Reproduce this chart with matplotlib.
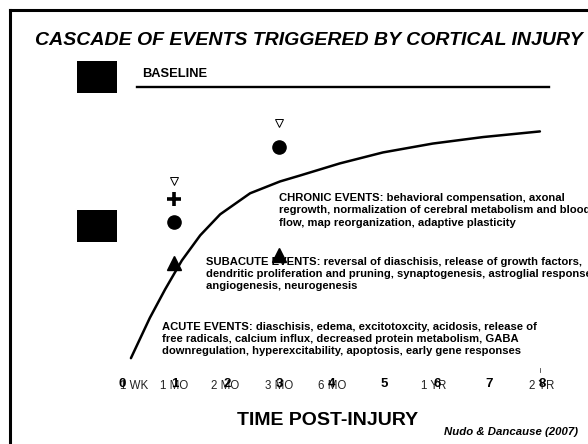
import numpy as np
import matplotlib as mpl
mpl.use('Agg')
import matplotlib.pyplot as plt
from matplotlib.lines import Line2D

plt.rcParams['font.family'] = ['Liberation Sans', 'DejaVu Sans']

# recovery curve (x = time index, y = function level, baseline = 100)
curve_x = [0.17, 0.53, 0.82, 1.14, 1.49, 1.87, 2.44, 3.01, 3.39, 4.15, 4.97, 5.92, 6.88, 7.96]
curve_y = [9.0, 22.6, 32.2, 42.0, 50.5, 57.6, 64.7, 68.7, 70.7, 74.8, 78.5, 81.5, 83.7, 85.6]

baseline_level = 100.6
baseline_span = [0.29, 8.13]

# symbol columns
open_tri_x = [1.0, 3.0]
open_tri_y = [69.0, 88.4]
plus_x = [1.0]
plus_y = [62.8]
circle_x = [1.0, 3.0]
circle_y = [55.0, 80.3]
tri_x = [1.0, 3.0]
tri_y = [41.1, 43.9]
square_x = [-0.476, -0.476]
square_y = [104.0, 53.8]

# x axis labels
tick_nums = [0, 1, 2, 3, 4, 5, 6, 7, 8]
time_labels = ['1 WK', '1 MO', '2 MO', '3 MO', '6 MO', '1 YR', '2 YR']
time_pos = [0.23, 1.0, 1.96, 3.0, 4.0, 5.94, 8.0]

chronic = ('CHRONIC EVENTS: behavioral compensation, axonal\n'
           'regrowth, normalization of cerebral metabolism and blood\n'
           'flow, map reorganization, adaptive plasticity')
subacute = ('SUBACUTE EVENTS: reversal of diaschisis, release of growth factors,\n'
            'dendritic proliferation and pruning, synaptogenesis, astroglial response,\n'
            'angiogenesis, neurogenesis')
acute = ('ACUTE EVENTS: diaschisis, edema, excitotoxcity, acidosis, release of\n'
         'free radicals, calcium influx, decreased protein metabolism, GABA\n'
         'downregulation, hyperexcitability, apoptosis, early gene responses')

fig = plt.figure(figsize=(5.88, 4.44), dpi=100)
ax = fig.add_axes([0, 0, 1, 1])
ax.set_xlim(-122 / 52.5, 466 / 52.5)
ax.set_ylim(-20, 130)
ax.axis('off')

# frame (cut off at right / bottom)
fig.add_artist(Line2D([10 / 588, 10 / 588], [0, 1 - 10 / 444], color='black', lw=2.2,
                      transform=fig.transFigure))
fig.add_artist(Line2D([10 / 588, 1], [1 - 10 / 444, 1 - 10 / 444], color='black', lw=2.2,
                      transform=fig.transFigure))

ax.text(-1.66, 116.3, 'CASCADE OF EVENTS TRIGGERED BY CORTICAL INJURY', fontsize=14,
        fontweight='bold', fontstyle='italic', ha='left', va='center')

ax.plot(baseline_span, [baseline_level] * 2, color='black', lw=1.7)
ax.text(0.38, 105.0, 'BASELINE', fontsize=9.3, fontweight='bold', ha='left', va='center')

# filled rectangles
rect = [(-1, -0.775), (1, -0.775), (1, 0.775), (-1, 0.775)]
ax.scatter(square_x, square_y, marker=rect, s=830, color='black', linewidths=0)

ax.plot(curve_x, curve_y, color='black', lw=1.8, solid_capstyle='round',
        solid_joinstyle='round')

ax.plot(open_tri_x, open_tri_y, 'v', ms=6, mfc='white', mec='black', mew=0.7, ls='none')
ax.plot(plus_x, plus_y, '+', ms=9.5, mec='black', mew=2.6, ls='none')
ax.plot(circle_x, circle_y, 'o', ms=9.5, color='black', ls='none')

ax.text(3.0, 59.0, chronic, fontsize=8.1, fontweight='bold', ha='left', va='center',
        linespacing=1.3)
ax.text(1.6, 37.4, subacute, fontsize=8.1, fontweight='bold', ha='left', va='center',
        linespacing=1.3)
ax.text(0.76, 15.5, acute, fontsize=8.1, fontweight='bold', ha='left', va='center',
        linespacing=1.3)

ax.plot(tri_x, tri_y, '^', ms=10, color='black', ls='none', zorder=5)

# small tick mark over 2 YR
ax.plot([7.96, 7.96], [4.2, 5.8], color='#444444', lw=0.6)

for p, lab in zip(time_pos, time_labels):
    ax.text(p, -0.5, lab, fontsize=8.3, color='#222222', ha='center', va='center')
for n in tick_nums:
    ax.text(n, 0.3, str(n), fontsize=9.5, fontweight='bold', ha='center', va='center')

ax.text(3.92, -11.9, 'TIME POST-INJURY', fontsize=14, fontweight='bold',
        ha='center', va='center')
ax.text(8.69, -15.9, 'Nudo & Dancause (2007)', fontsize=8.2, fontweight='bold',
        fontstyle='italic', ha='right', va='center')

fig.savefig('out.png', dpi=100)
